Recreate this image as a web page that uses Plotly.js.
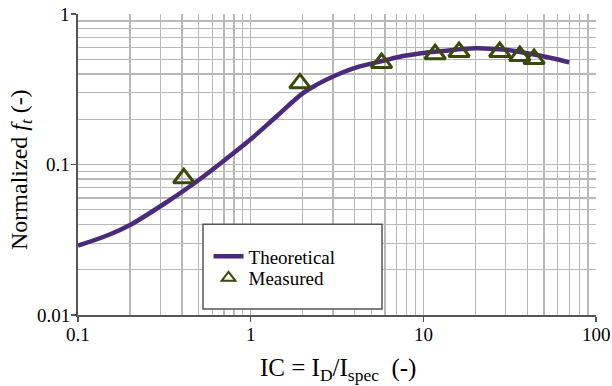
<!DOCTYPE html>
<html>
<head>
<meta charset="utf-8">
<script src="https://cdn.plot.ly/plotly-3.0.1.min.js"></script>
<style>html,body{margin:0;padding:0;background:#fff;}#chart{width:612px;height:386px;}</style>
</head>
<body>
<div id="chart"></div>
<script>
// Theoretical curve
const theoIC = [0.1, 0.15, 0.2, 0.34, 0.465, 0.7, 1.0, 1.4, 2.0, 2.4, 3.14, 4.1, 5.85, 7.3, 10, 13, 20, 30, 40, 55, 70];
const theoFt = [0.0289, 0.034, 0.0396, 0.058, 0.0742, 0.106, 0.147, 0.207, 0.297, 0.338, 0.393, 0.442, 0.489, 0.52, 0.55, 0.568, 0.592, 0.578, 0.548, 0.51, 0.477];
// Measured points
const measIC = [0.41, 1.93, 5.73, 11.7, 16.1, 27.7, 36.2, 43.8];
const measFt = [0.081, 0.346, 0.472, 0.540, 0.559, 0.559, 0.526, 0.502];
// Tick labels
const xTickVals = [0.1, 1, 10, 100];
const xTickText = ['0.1', '1', '10', '100'];
const yTickVals = [0.01, 0.1, 1];
const yTickText = ['0.01', '0.1', '1'];
const seriesNames = ['Theoretical', 'Measured'];
const xTitle = 'IC = I<sub>D</sub>/I<sub>spec</sub>  (-)';
const yTitle = 'Normalized <i>f</i><sub><i>t</i></sub> (-)';

const FONT = '"Liberation Serif", "Times New Roman", Times, serif';
const gridCol = '#b8b8b8';
const axisCol = '#555555';
const tickFont = {family: FONT, size: 19, color: '#000'};

// plot area in pixels (margins)
const M = {l: 78, r: 16, t: 14, b: 71};
const PW = 612 - M.l - M.r, PH = 386 - M.t - M.b;
const px2paperY = p => (386 - M.b - p) / PH;
const px2paperX = p => (p - M.l) / PW;

const traces = [
  {
    x: theoIC, y: theoFt, name: seriesNames[0], type: 'scatter', mode: 'lines',
    line: {color: '#4B2A7E', width: 4.5, shape: 'spline', smoothing: 1},
    legend: 'legend', hoverinfo: 'skip'
  },
  {
    x: measIC, y: measFt, name: seriesNames[1], type: 'scatter', mode: 'markers',
    marker: {symbol: 'triangle-up-open', size: 18, color: '#3A4A0A', line: {color: '#3A4A0A', width: 3}},
    legend: 'legend2', hoverinfo: 'skip'
  }
];

const tickAnnX = xTickVals.map((v, i) => ({
  text: xTickText[i], xref: 'x', yref: 'paper', x: Math.log10(v), y: px2paperY(334),
  xanchor: 'center', yanchor: 'middle', showarrow: false, font: tickFont
}));
const tickAnnY = yTickVals.map((v, i) => ({
  text: yTickText[i], xref: 'paper', yref: 'y', x: px2paperX(72), y: Math.log10(v),
  xanchor: 'right', yanchor: 'middle', showarrow: false, font: tickFont
}));

const layout = {
  width: 612, height: 386,
  margin: M,
  paper_bgcolor: '#fff', plot_bgcolor: '#fff',
  font: {family: FONT, size: 19, color: '#000'},
  showlegend: true,
  legend: {
    x: 0.252, y: px2paperY(256.5), xanchor: 'left', yanchor: 'middle',
    bgcolor: 'rgba(0,0,0,0)', borderwidth: 0,
    font: {family: FONT, size: 19, color: '#000'}
  },
  legend2: {
    x: 0.252, y: px2paperY(278), xanchor: 'left', yanchor: 'middle',
    bgcolor: 'rgba(0,0,0,0)', borderwidth: 0, itemsizing: 'constant',
    font: {family: FONT, size: 19, color: '#000'}
  },
  shapes: [{
    type: 'rect', xref: 'paper', yref: 'paper',
    x0: px2paperX(203), x1: px2paperX(382), y0: px2paperY(309), y1: px2paperY(224.3),
    fillcolor: '#fff', line: {color: '#555', width: 1.5}, layer: 'above'
  }],
  annotations: tickAnnX.concat(tickAnnY, [
    {
      text: xTitle, xref: 'paper', yref: 'paper',
      x: px2paperX(338), y: px2paperY(369), xanchor: 'center', yanchor: 'middle',
      showarrow: false, font: {family: FONT, size: 25, color: '#000'}
    },
    {
      text: yTitle, xref: 'paper', yref: 'paper', textangle: -90,
      x: px2paperX(21), y: px2paperY(170), xanchor: 'center', yanchor: 'middle',
      showarrow: false, font: {family: FONT, size: 24, color: '#000'}
    }
  ]),
  xaxis: {
    type: 'log', range: [-1, 2],
    tickmode: 'array', tickvals: xTickVals, showticklabels: false,
    ticks: 'outside', ticklen: 5, tickwidth: 1.5, tickcolor: axisCol,
    showline: true, linecolor: axisCol, linewidth: 2,
    showgrid: true, gridcolor: gridCol, gridwidth: 1.3,
    minor: {dtick: 'D1', showgrid: true, gridcolor: gridCol, gridwidth: 1.3, ticks: ''},
    zeroline: false
  },
  yaxis: {
    type: 'log', range: [-2, 0],
    tickmode: 'array', tickvals: yTickVals, showticklabels: false,
    ticks: 'outside', ticklen: 5, tickwidth: 1.5, tickcolor: axisCol,
    showline: true, linecolor: axisCol, linewidth: 2,
    showgrid: true, gridcolor: gridCol, gridwidth: 1.3,
    minor: {dtick: 'D1', showgrid: true, gridcolor: gridCol, gridwidth: 1.3, ticks: ''},
    zeroline: false
  }
};

Plotly.newPlot('chart', traces, layout, {staticPlot: true, displayModeBar: false});
</script>
</body>
</html>
